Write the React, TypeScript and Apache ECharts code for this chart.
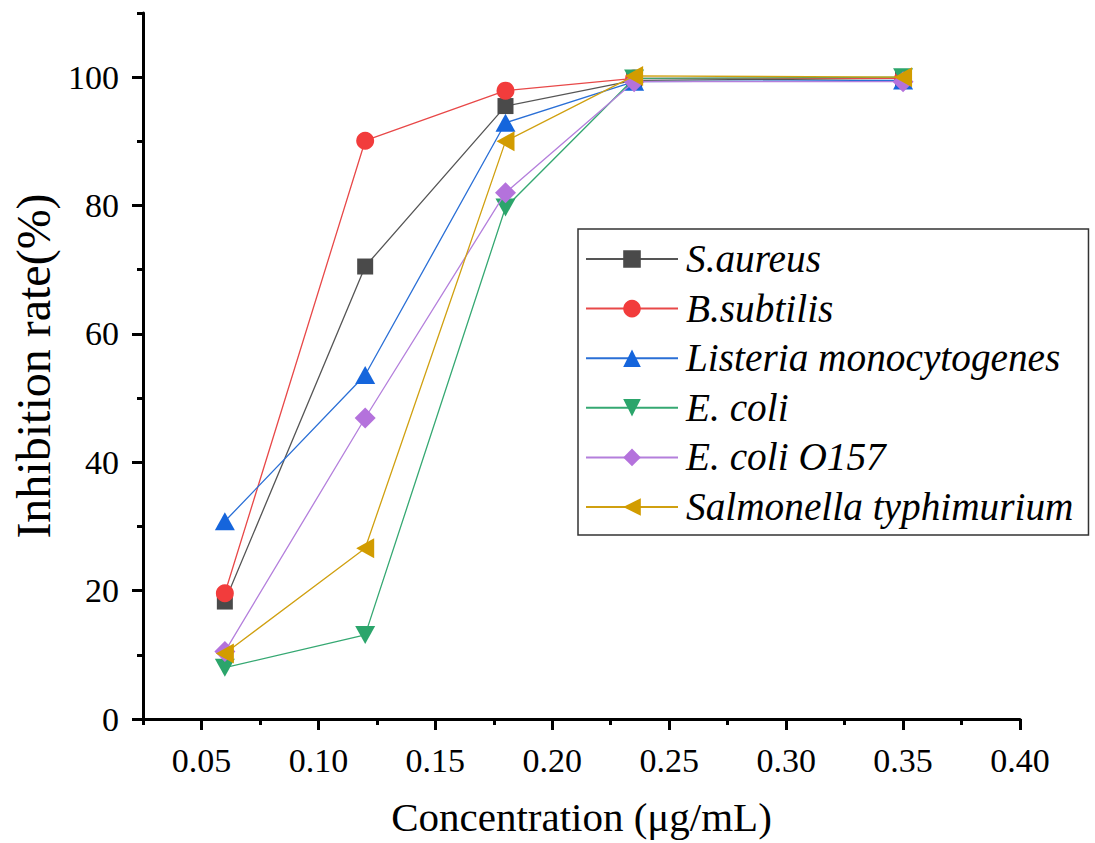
import React, { useEffect, useRef } from "react";
import * as echarts from "echarts";

const concentrations = [0.06, 0.12, 0.18, 0.235, 0.35];
const sAureus = [18.3, 70.5, 95.5, 99.5, 99.8];
const bSubtilis = [19.6, 90.1, 97.9, 99.8, 99.8];
const listeria = [30.8, 53.6, 92.9, 99.3, 99.5];
const eColi = [8.0, 13.1, 79.7, 99.8, 100.0];
const eColiO157 = [10.5, 46.9, 82.0, 99.3, 99.3];
const salmonella = [10.2, 26.6, 90.0, 100.2, 100.0];

const seriesNames = [
  "S.aureus",
  "B.subtilis",
  "Listeria monocytogenes",
  "E. coli",
  "E. coli O157",
  "Salmonella typhimurium",
];

const xMajorTicks = [0.05, 0.1, 0.15, 0.2, 0.25, 0.3, 0.35, 0.4];
const xMinorTicks = [0.025, 0.075, 0.125, 0.175, 0.225, 0.275, 0.325, 0.375];
const yMajorTicks = [0, 20, 40, 60, 80, 100];
const yMinorTicks = [10, 30, 50, 70, 90, 110];

const FONT = "Liberation Serif";

export default function App() {
  const ref = useRef<HTMLDivElement>(null);

  useEffect(() => {
    if (!ref.current) return;
    const chart = echarts.init(ref.current, null, { renderer: "svg" });

    const values = [sAureus, bSubtilis, listeria, eColi, eColiO157, salmonella];
    const styles = [
      { symbol: "rect", size: 16, rotate: 0, fill: "#4a4a4a", line: "#555555" },
      { symbol: "circle", size: 18, rotate: 0, fill: "#f23c3c", line: "#e84848" },
      { symbol: "triangle", size: [20, 18], rotate: 0, fill: "#1565dc", line: "#2a6fd6" },
      { symbol: "triangle", size: [20, 18], rotate: 180, fill: "#2ba56b", line: "#35a872" },
      { symbol: "diamond", size: 21, rotate: 0, fill: "#b472dc", line: "#b47fdc" },
      { symbol: "triangle", size: [20, 18], rotate: 90, fill: "#d29c00", line: "#d0a010" },
    ];

    const series = values.map((vals, i) => ({
      name: seriesNames[i],
      type: "line",
      xAxisIndex: 0,
      yAxisIndex: 0,
      data: concentrations.map((c, j) => [c, vals[j]]),
      symbol: styles[i].symbol,
      symbolSize: styles[i].size,
      symbolRotate: styles[i].rotate,
      itemStyle: { color: styles[i].fill, borderWidth: 0 },
      lineStyle: { color: styles[i].line, width: 1.3 },
      z: 2 + i,
    }));

    const axisFont = { fontFamily: FONT, fontSize: 34, color: "#000" };

    chart.setOption({
      animation: false,
      backgroundColor: "#fff",
      textStyle: { fontFamily: FONT },
      grid: { left: 143, right: 75, top: 13, bottom: 124, containLabel: false },
      legend: {
        orient: "vertical",
        left: 578,
        top: 229,
        data: seriesNames,
        itemWidth: 92,
        itemHeight: 22,
        itemGap: 9.6,
        padding: [10, 15, 8, 7],
        borderColor: "#333",
        borderWidth: 1.5,
        borderRadius: 0,
        textStyle: {
          fontFamily: FONT,
          fontStyle: "italic",
          fontSize: 39.3,
          lineHeight: 40,
          color: "#000",
          padding: [0, 0, 0, 3],
        },
      },
      xAxis: [
        {
          type: "value",
          min: 0.025,
          max: 0.4,
          position: "bottom",
          name: "Concentration (μg/mL)",
          nameLocation: "middle",
          nameGap: 77,
          nameTextStyle: { fontFamily: FONT, fontSize: 41, color: "#000" },
          axisLine: { show: true, onZero: false, lineStyle: { color: "#000", width: 3 } },
          axisTick: {
            show: true,
            length: 11,
            lineStyle: { color: "#000", width: 3 },
            customValues: xMajorTicks,
          },
          axisLabel: {
            ...axisFont,
            margin: 24,
            customValues: xMajorTicks,
            formatter: (v: number) => v.toFixed(2),
          },
          splitLine: { show: false },
        },
        {
          type: "value",
          min: 0.025,
          max: 0.4,
          position: "bottom",
          axisLine: { show: false, onZero: false },
          axisTick: {
            show: true,
            length: 6,
            lineStyle: { color: "#000", width: 3 },
            customValues: xMinorTicks,
          },
          axisLabel: { show: false },
          splitLine: { show: false },
        },
      ],
      yAxis: [
        {
          type: "value",
          min: 0,
          max: 110,
          position: "left",
          name: "Inhibition rate(%)",
          nameLocation: "middle",
          nameGap: 86,
          nameTextStyle: { fontFamily: FONT, fontSize: 48, color: "#000" },
          axisLine: { show: true, onZero: false, lineStyle: { color: "#000", width: 3 } },
          axisTick: {
            show: true,
            length: 11,
            lineStyle: { color: "#000", width: 3 },
            customValues: yMajorTicks,
          },
          axisLabel: {
            ...axisFont,
            margin: 24,
            customValues: yMajorTicks,
          },
          splitLine: { show: false },
        },
        {
          type: "value",
          min: 0,
          max: 110,
          position: "left",
          axisLine: { show: false, onZero: false },
          axisTick: {
            show: true,
            length: 6,
            lineStyle: { color: "#000", width: 3 },
            customValues: yMinorTicks,
          },
          axisLabel: { show: false },
          splitLine: { show: false },
        },
      ],
      series,
    });

    return () => chart.dispose();
  }, []);

  return (
    <div
      ref={ref}
      style={{ position: "fixed", left: 0, top: 0, width: 1095, height: 843, background: "#fff" }}
    />
  );
}
